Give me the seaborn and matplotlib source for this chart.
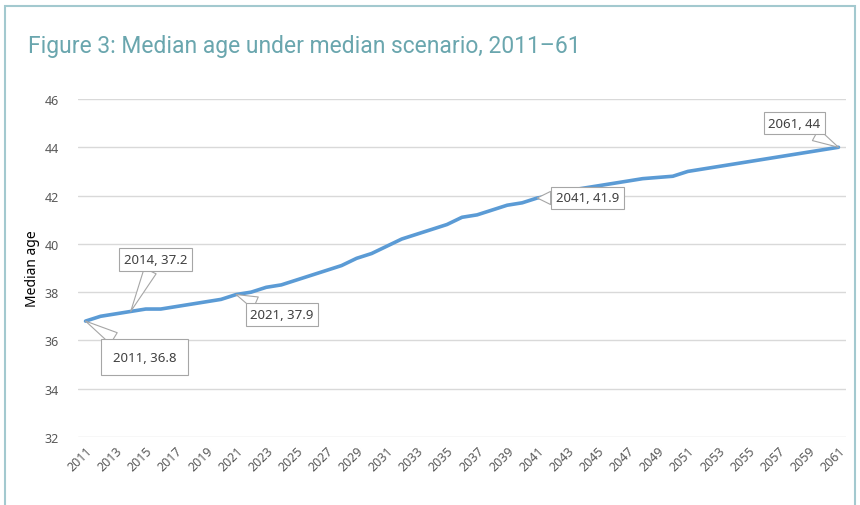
import matplotlib.pyplot as plt
import seaborn as sns
import pandas as pd
from matplotlib.patches import Rectangle

sns.set_style("white")
plt.rcParams['font.family'] = ['Noto Sans', 'DejaVu Sans']

years = list(range(2011, 2062))
median_age = [36.8, 37.0, 37.1, 37.2, 37.3, 37.3, 37.4, 37.5, 37.6, 37.7,
              37.9, 38.0, 38.2, 38.3, 38.5, 38.7, 38.9, 39.1, 39.4, 39.6,
              39.9, 40.2, 40.4, 40.6, 40.8, 41.1, 41.2, 41.4, 41.6, 41.7,
              41.9, 42.0, 42.2, 42.3, 42.4, 42.5, 42.6, 42.7, 42.75, 42.8,
              43.0, 43.1, 43.2, 43.3, 43.4, 43.5, 43.6, 43.7, 43.8, 43.9,
              44.0]
tick_years = list(range(2011, 2062, 2))
y_ticks = [32, 34, 36, 38, 40, 42, 44, 46]

# labelled points: year -> (offset in pixels, box padding)
callouts = {2011: ((59, -36), 0.9), 2014: ((25, 52), 0.35), 2021: ((46, -20), 0.35),
            2041: ((50, 0), 0.35), 2061: ((-44, 24), 0.35)}

df = pd.DataFrame({'year': years, 'age': median_age})

fig = plt.figure(figsize=(8.6, 5.06), dpi=100)
ax = fig.add_axes([0.0907, 0.1344, 0.893, 0.668])

sns.lineplot(data=df, x='year', y='age', color='#5b9bd5', linewidth=2.6, ax=ax)

ax.set_xlim(2010.5, 2061.5)
ax.set_ylim(32, 46)
ax.set_yticks(y_ticks)
ax.set_xticks(tick_years)
ax.set_xticklabels([str(y) for y in tick_years], rotation=45, ha='right',
                   rotation_mode='anchor')
ax.tick_params(axis='both', colors='#595959', labelsize=9, length=0)
ax.tick_params(axis='y', pad=14)
ax.tick_params(axis='x', pad=5)
ax.grid(axis='y', color='#d9d9d9', linewidth=1)
ax.set_axisbelow(True)
for s in ax.spines.values():
    s.set_visible(False)
ax.set_xlabel('')
ax.set_ylabel('Median age', fontsize=10, color='black', labelpad=3)

for yr, (off, pad) in callouts.items():
    val = median_age[years.index(yr)]
    txt = f"{yr}, {val:g}"
    ax.annotate(txt, xy=(yr, val), xytext=off, textcoords='offset pixels',
                ha='center', va='center', fontsize=9.5, color='#404040',
                bbox=dict(boxstyle=f'square,pad={pad}', fc='white', ec='#a6a6a6', lw=0.8),
                arrowprops=dict(arrowstyle='wedge,tail_width=1.0', fc='white',
                                ec='#a6a6a6', lw=0.8, shrinkA=0, shrinkB=0))

fig.text(28 / 860, 1 - 47 / 506, 'Figure 3: Median age under median scenario, 2011\u201361',
         fontsize=16.5, color='#6aa6ae', va='center', ha='left',
         family=['Roboto', 'DejaVu Sans'])

fig.patches.append(Rectangle((5 / 860, -0.1), 850 / 860, 1.1 - 7 / 506, fill=False,
                             ec='#a3c9cf', lw=1.5, transform=fig.transFigure, figure=fig))

fig.savefig('out.png', dpi=100)
